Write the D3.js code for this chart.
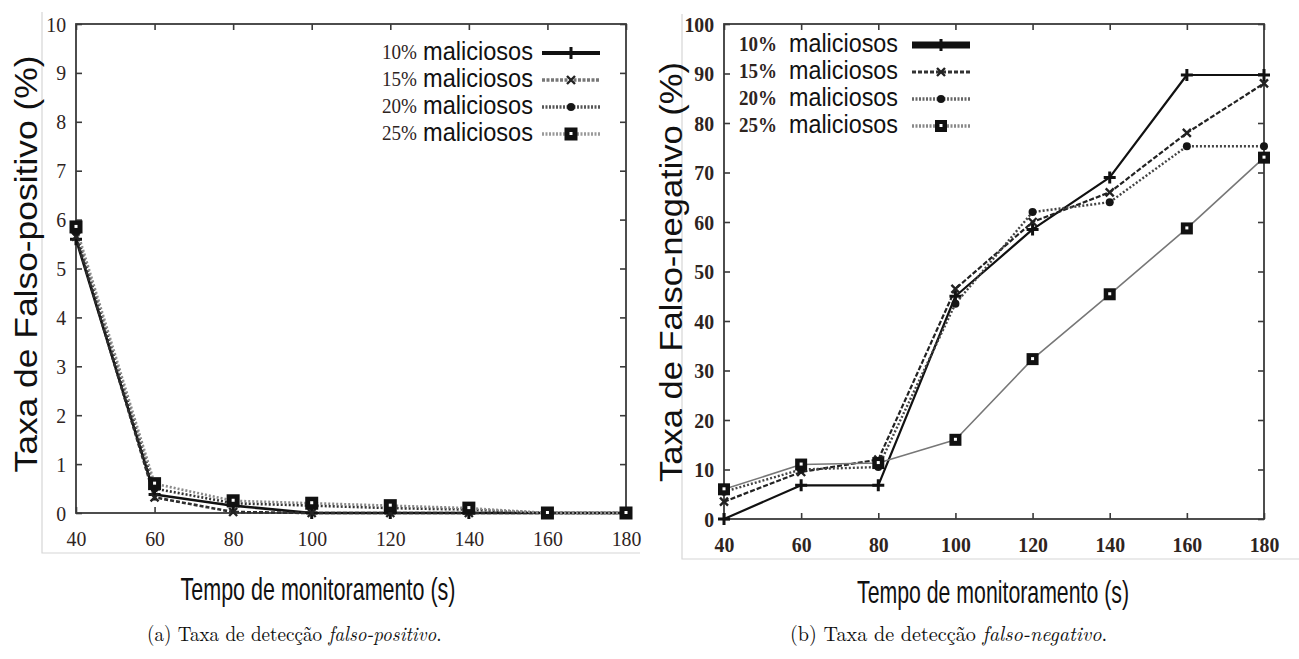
<!DOCTYPE html>
<html>
<head>
<meta charset="utf-8">
<script src="https://cdn.jsdelivr.net/npm/d3@7"></script>
<style>
  body { margin: 0; background: #fff; }
  svg { display: block; }
</style>
</head>
<body>
<svg id="fig" width="1299" height="659"></svg>
<script>
// Monitoring time (s) on the x axis of both panels
const monitorTimes = [40, 60, 80, 100, 120, 140, 160, 180];

// Legend labels (share of malicious nodes)
const legendPct = ["10%", "15%", "20%", "25%"];
const legendWord = "maliciosos";

// Tick labels
const fpTicks = [0, 1, 2, 3, 4, 5, 6, 7, 8, 9, 10];
const fnTicks = [0, 10, 20, 30, 40, 50, 60, 70, 80, 90, 100];

// (a) false-positive rate (%)
const fp10 = [5.6, 0.38, 0.15, 0, 0, 0, 0, 0];
const fp15 = [5.65, 0.32, 0.02, 0, 0, 0, 0, 0];
const fp20 = [5.75, 0.5, 0.2, 0.15, 0.1, 0.07, 0, 0];
const fp25 = [5.85, 0.6, 0.25, 0.2, 0.15, 0.1, 0, 0];

// (b) false-negative rate (%)
const fn10 = [0, 6.8, 6.8, 45, 58.5, 69, 89.7, 89.7];
const fn15 = [3.5, 9.5, 12, 46.5, 60, 66, 78, 88];
const fn20 = [5.5, 10, 10.5, 43.5, 62, 64, 75.3, 75.3];
const fn25 = [6, 11, 11.3, 16, 32.3, 45.4, 58.7, 73];

// Text
const xTitle = "Tempo de monitoramento (s)";
const yTitleA = "Taxa de Falso-positivo (%)";
const yTitleB = "Taxa de Falso-negativo (%)";

const svg = d3.select("#fig");
const tickColor = "#2e241e";

// light border of each panel's picture frame
svg.append("path").attr("d", "M42,12V553H640")
  .attr("fill", "none").attr("stroke", "#d6d6d6").attr("stroke-width", 1.2);
svg.append("path").attr("d", "M682,14V559H1299")
  .attr("fill", "none").attr("stroke", "#d6d6d6").attr("stroke-width", 1.2);

const markerKinds = ["plus", "cross", "dot", "square"];

function drawMarker(g, kind, cx, cy, s) {
  const m = g.append("g").attr("transform", `translate(${cx},${cy})`);
  if (kind === "plus") {
    m.append("path").attr("d", `M${-s},0H${s}M0,${-s}V${s}`)
      .attr("stroke", "#111").attr("stroke-width", 3).attr("fill", "none");
  } else if (kind === "cross") {
    const k = s * 0.8;
    m.append("path").attr("d", `M${-k},${-k}L${k},${k}M${-k},${k}L${k},${-k}`)
      .attr("stroke", "#222").attr("stroke-width", 2.4).attr("fill", "none");
  } else if (kind === "dot") {
    m.append("circle").attr("r", s * 0.8).attr("fill", "#151515");
  } else {
    m.append("rect").attr("x", -s).attr("y", -s).attr("width", 2 * s).attr("height", 2 * s)
      .attr("fill", "#111");
    m.append("rect").attr("x", -1.5).attr("y", -2).attr("width", 3).attr("height", 3)
      .attr("fill", "#fff");
  }
}

function panel(cfg) {
  const g = svg.append("g");
  const x = d3.scaleLinear().domain([40, 180]).range([cfg.left, cfg.right]);
  const y = d3.scaleLinear().domain(cfg.yDomain).range([cfg.bottom, cfg.top]);

  // axes: labels on bottom/left, mirrored inward ticks on top/right
  const bottom = g.append("g").attr("transform", `translate(0,${cfg.bottom})`)
    .call(d3.axisBottom(x).tickValues(monitorTimes).tickSize(-6).tickPadding(cfg.xPad));
  const left = g.append("g").attr("transform", `translate(${cfg.left},0)`)
    .call(d3.axisLeft(y).tickValues(cfg.yTicks).tickSize(-6).tickPadding(cfg.yPad));
  g.append("g").attr("transform", `translate(0,${cfg.top})`)
    .call(d3.axisTop(x).tickValues(monitorTimes).tickSize(-6).tickFormat(""));
  g.append("g").attr("transform", `translate(${cfg.right},0)`)
    .call(d3.axisRight(y).tickValues(cfg.yTicks).tickSize(-6).tickFormat(""));

  g.selectAll(".domain").remove();
  g.selectAll(".tick line").attr("stroke", "#3a3a3a").attr("stroke-width", 1.6);
  [bottom, left].forEach(a => a.selectAll("text")
    .attr("fill", tickColor)
    .attr("font-family", "'Liberation Serif', 'Times New Roman', serif")
    .attr("font-size", cfg.tickFont)
    .attr("font-weight", cfg.tickWeight)
    .attr("transform", "scale(0.9,1)"));

  // frame
  g.append("rect").attr("x", cfg.left).attr("y", cfg.top)
    .attr("width", cfg.right - cfg.left).attr("height", cfg.bottom - cfg.top)
    .attr("fill", "none").attr("stroke", "#3a3a3a").attr("stroke-width", 1.8);

  const line = d3.line().x(d => x(d[0])).y(d => y(d[1]));
  const pts = cfg.series.map(vals => monitorTimes.map((t, i) => [t, vals[i]]));

  pts.forEach((p, i) => {
    const st = cfg.lineStyles[i];
    g.append("path").attr("d", line(p)).attr("fill", "none")
      .attr("stroke", st.color).attr("stroke-width", st.width)
      .attr("stroke-dasharray", st.dash || null)
      .attr("stroke-linejoin", "round");
  });
  pts.forEach((p, i) => {
    p.forEach(d => drawMarker(g, markerKinds[i], x(d[0]), y(d[1]), cfg.markerSize[i]));
  });

  // legend
  legendPct.forEach((pct, i) => {
    const ly = cfg.legend.y0 + i * cfg.legend.dy;
    g.append("text").attr("x", cfg.legend.pctEnd).attr("y", ly + 6)
      .attr("text-anchor", "end")
      .attr("font-family", "'Liberation Serif', 'Times New Roman', serif")
      .attr("font-size", 20).attr("font-weight", cfg.legend.pctWeight)
      .attr("fill", tickColor)
      .attr("textLength", cfg.legend.pctLen).attr("lengthAdjust", "spacingAndGlyphs")
      .text(pct);
    g.append("text").attr("x", cfg.legend.wordStart).attr("y", ly + 7)
      .attr("font-family", "'Liberation Sans', Arial, sans-serif")
      .attr("font-size", 25).attr("fill", "#111")
      .attr("textLength", cfg.legend.wordLen).attr("lengthAdjust", "spacingAndGlyphs")
      .text(legendWord);
    const st = cfg.legendStyles[i];
    g.append("line").attr("x1", cfg.legend.lineStart).attr("x2", cfg.legend.lineEnd)
      .attr("y1", ly).attr("y2", ly)
      .attr("stroke", st.color).attr("stroke-width", st.width)
      .attr("stroke-dasharray", st.dash || null);
    drawMarker(g, markerKinds[i], (cfg.legend.lineStart + cfg.legend.lineEnd) / 2, ly, cfg.markerSize[i]);
  });

  // axis titles
  g.append("text").attr("x", cfg.xTitle.x).attr("y", cfg.xTitle.y)
    .attr("text-anchor", "middle")
    .attr("font-family", "'Liberation Sans', Arial, sans-serif")
    .attr("font-size", 32).attr("fill", "#111")
    .attr("textLength", cfg.xTitle.len).attr("lengthAdjust", "spacingAndGlyphs")
    .text(xTitle);
  g.append("text")
    .attr("transform", `translate(${cfg.yTitle.x},${cfg.yTitle.y}) rotate(-90)`)
    .attr("text-anchor", "middle")
    .attr("font-family", "'Liberation Sans', Arial, sans-serif")
    .attr("font-size", 31).attr("fill", "#111")
    .attr("textLength", cfg.yTitle.len).attr("lengthAdjust", "spacingAndGlyphs")
    .text(cfg.yTitle.text);

  // caption (upright lead, italic term, final period)
  const cap = svg.append("text")
    .attr("transform", `translate(${cfg.caption.x},641) scale(${cfg.caption.sx},1)`)
    .attr("font-family", "'Latin Modern Roman', 'Liberation Serif', serif")
    .attr("font-size", 21).attr("fill", "#111");
  cap.append("tspan").text(cfg.caption.lead);
  cap.append("tspan").attr("font-style", "italic").text(cfg.caption.it);
  cap.append("tspan").text(".");
}

panel({
  left: 76, right: 626, top: 24, bottom: 513,
  yDomain: [0, 10], yTicks: fpTicks,
  xPad: 17, yPad: 11, tickFont: 22, tickWeight: "normal",
  series: [fp10, fp15, fp20, fp25],
  lineStyles: [
    { color: "#111", width: 2.6 },
    { color: "#2e2e2e", width: 2.6, dash: "4,2" },
    { color: "#333", width: 2.6, dash: "2,2" },
    { color: "#8a8a8a", width: 2.6, dash: "2,2" }
  ],
  markerSize: [6, 5, 5, 6.5],
  legend: {
    y0: 53, dy: 27, pctEnd: 417, pctLen: 35, pctWeight: "normal",
    wordStart: 423, wordLen: 110, lineStart: 542, lineEnd: 600
  },
  legendStyles: [
    { color: "#111", width: 4 },
    { color: "#777", width: 3.5, dash: "3,1.5" },
    { color: "#555", width: 3.5, dash: "2,1.5" },
    { color: "#999", width: 3.5, dash: "2,1.5" }
  ],
  xTitle: { x: 318, y: 600, len: 275 },
  yTitle: { x: 37, y: 264, len: 417, text: yTitleA },
  caption: { x: 147, sx: 0.91, lead: "(a) Taxa de detecção ", it: "falso-positivo" }
});

panel({
  left: 724, right: 1264, top: 24, bottom: 519,
  yDomain: [0, 100], yTicks: fnTicks,
  xPad: 17, yPad: 11, tickFont: 22, tickWeight: "bold",
  series: [fn10, fn15, fn20, fn25],
  lineStyles: [
    { color: "#111", width: 2.2 },
    { color: "#222", width: 2.2, dash: "5,2" },
    { color: "#444", width: 2.4, dash: "2,2" },
    { color: "#777", width: 1.6 }
  ],
  markerSize: [6, 5, 5, 6],
  legend: {
    y0: 45, dy: 27, pctEnd: 777, pctLen: 38, pctWeight: "bold",
    wordStart: 789, wordLen: 109, lineStart: 912, lineEnd: 970
  },
  legendStyles: [
    { color: "#111", width: 7 },
    { color: "#333", width: 3, dash: "4,2" },
    { color: "#666", width: 3.5, dash: "2,1.5" },
    { color: "#888", width: 3.5, dash: "2,1.5" }
  ],
  xTitle: { x: 993, y: 603, len: 272 },
  yTitle: { x: 682, y: 272, len: 420, text: yTitleB },
  caption: { x: 790, sx: 0.96, lead: "(b) Taxa de detecção ", it: "falso-negativo" }
});
</script>
</body>
</html>
